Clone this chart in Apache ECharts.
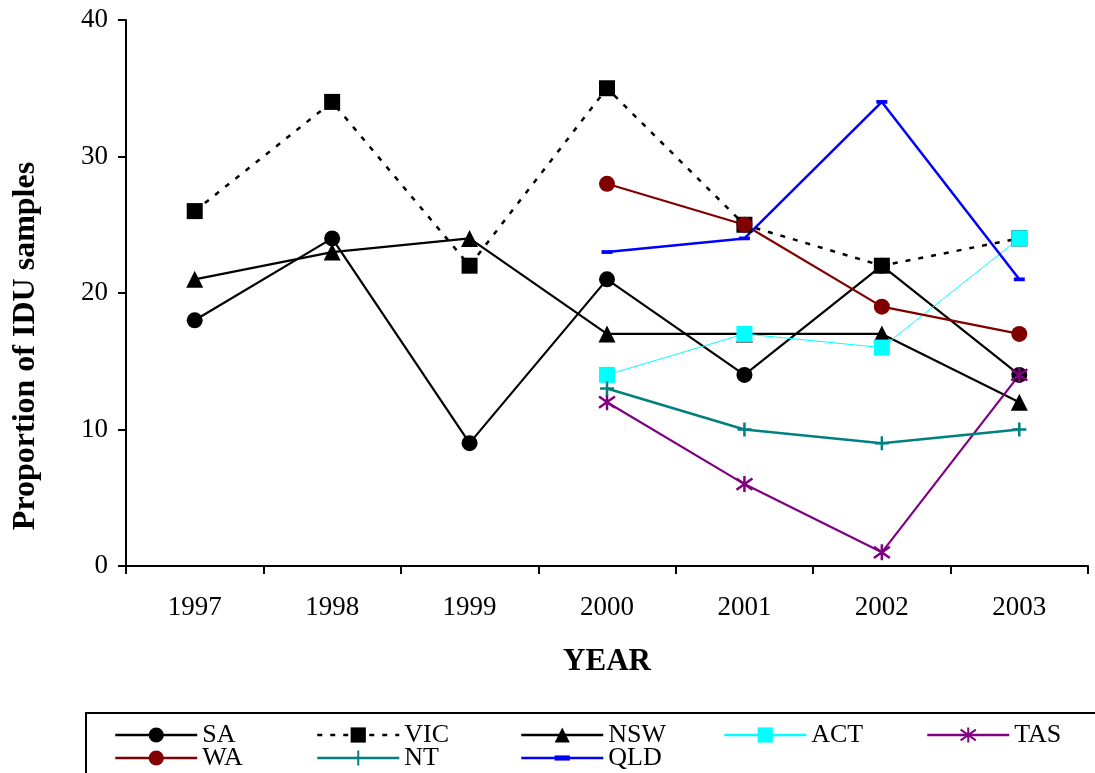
<!DOCTYPE html>
<html>
<head>
<meta charset="utf-8">
<script src="https://cdn.jsdelivr.net/npm/echarts@6/dist/echarts.min.js"></script>
<style>
  html, body { margin: 0; padding: 0; background: #fff; }
  #chart { width: 1095px; height: 773px; }
</style>
</head>
<body>
<div id="chart"></div>
<script>
// Proportion of IDU samples by state, 1997-2003
const years = ['1997', '1998', '1999', '2000', '2001', '2002', '2003'];
const saValues  = [18, 24, 9, 21, 14, 22, 14];
const vicValues = [26, 34, 22, 35, 25, 22, 24];
const nswValues = [21, 23, 24, 17, 17, 17, 12];
const actValues = [null, null, null, 14, 17, 16, 24];
const tasValues = [null, null, null, 12, 6, 1, 14];
const waValues  = [null, null, null, 28, 25, 19, 17];
const ntValues  = [null, null, null, 13, 10, 9, 10];
const qldValues = [null, null, null, 23, 24, 34, 21];
const yTicks = [0, 10, 20, 30, 40];

const FONT = '"Liberation Serif", "DejaVu Serif", serif';

// stroked marker shapes
const ASTERISK = 'path://M0 3 L20 17 M0 17 L20 3 M10 0 L10 20';
const PLUS = 'path://M0 10 L20 10 M10 0 L10 20';
// flat dash inside a square frame of zero-length anchors
const DASH = 'path://M0 0 L0 0 M10 10 L10 10 M0 3.3 L10 3.3 L10 6.7 L0 6.7 Z';

function lineSeries(name, data, color, width, symbol, size, extra) {
  return Object.assign({
    name: name,
    type: 'line',
    data: data,
    symbol: symbol,
    symbolSize: size,
    showAllSymbol: true,
    connectNulls: false,
    lineStyle: { color: color, width: width },
    itemStyle: { color: color, opacity: 1 },
    emphasis: { disabled: true },
    animation: false
  }, extra || {});
}

const series = [
  lineSeries('SA', saValues, '#000000', 2.2, 'circle', 16),
  lineSeries('VIC', vicValues, '#000000', 2.5, 'rect', 16, {
    lineStyle: { color: '#000000', width: 2.5, type: [5, 8] }
  }),
  lineSeries('NSW', nswValues, '#000000', 2.2, 'triangle', 17),
  lineSeries('ACT', actValues, '#00FFFF', 1, 'rect', 16),
  lineSeries('TAS', tasValues, '#800080', 2.2, ASTERISK, 16, {
    itemStyle: { color: 'none', borderColor: '#800080', borderWidth: 2.5, opacity: 1 }
  }),
  lineSeries('WA', waValues, '#800000', 2.2, 'circle', 16),
  lineSeries('NT', ntValues, '#008080', 2.5, PLUS, 14, {
    itemStyle: { color: 'none', borderColor: '#008080', borderWidth: 2.5, opacity: 1 }
  }),
  lineSeries('QLD', qldValues, '#0000FF', 2.5, DASH, 11)
];

// legend laid out in a fixed two-row grid
const legendCols = [114, 316, 520, 723, 926];
const legendRows = [722, 745];
const legendPlacement = [
  ['SA', 0, 0], ['VIC', 1, 0], ['NSW', 2, 0], ['ACT', 3, 0], ['TAS', 4, 0],
  ['WA', 0, 1], ['NT', 1, 1], ['QLD', 2, 1]
];
const legends = legendPlacement.map(([name, c, r]) => ({
  data: [name],
  left: legendCols[c],
  top: legendRows[r],
  padding: 0,
  itemWidth: 82,
  itemHeight: 19,
  itemGap: 0,
  selectedMode: false,
  lineStyle: { width: 2.5 },
  textStyle: { fontFamily: FONT, fontSize: 26, color: '#000', padding: [0, 0, 0, 0] }
}));

const chart = echarts.init(document.getElementById('chart'), null, { renderer: 'canvas' });
chart.setOption({
  backgroundColor: '#ffffff',
  animation: false,
  grid: { left: 126, right: 7, top: 20, height: 546, containLabel: false, outerBoundsMode: 'none' },
  legend: legends,
  xAxis: {
    type: 'category',
    data: years,
    boundaryGap: true,
    name: 'YEAR',
    nameLocation: 'middle',
    nameGap: 80,
    nameTextStyle: { fontFamily: FONT, fontSize: 31, fontWeight: 'bold', color: '#000' },
    axisLine: { lineStyle: { color: '#000', width: 2 } },
    axisTick: { show: true, inside: false, length: 8, alignWithLabel: false, lineStyle: { color: '#000', width: 2 } },
    axisLabel: { fontFamily: FONT, fontSize: 27, color: '#000', margin: 28 },
    splitLine: { show: false }
  },
  yAxis: {
    type: 'value',
    min: yTicks[0],
    max: yTicks[yTicks.length - 1],
    interval: yTicks[1] - yTicks[0],
    name: 'Proportion of IDU samples',
    nameLocation: 'middle',
    nameGap: 84,
    nameTextStyle: {
      fontFamily: FONT, fontSize: 32, fontWeight: 'bold', color: '#000',
      padding: [0, 106, 0, 0]
    },
    axisLine: { show: true, lineStyle: { color: '#000', width: 2 } },
    axisTick: { show: true, inside: false, length: 8, lineStyle: { color: '#000', width: 2 } },
    axisLabel: { fontFamily: FONT, fontSize: 27, color: '#000', margin: 18 },
    splitLine: { show: false }
  },
  graphic: [{
    type: 'rect',
    shape: { x: 86, y: 713, width: 1020, height: 80 },
    style: { fill: 'none', stroke: '#000', lineWidth: 2 },
    z: -1
  }],
  series: series
});
</script>
</body>
</html>
